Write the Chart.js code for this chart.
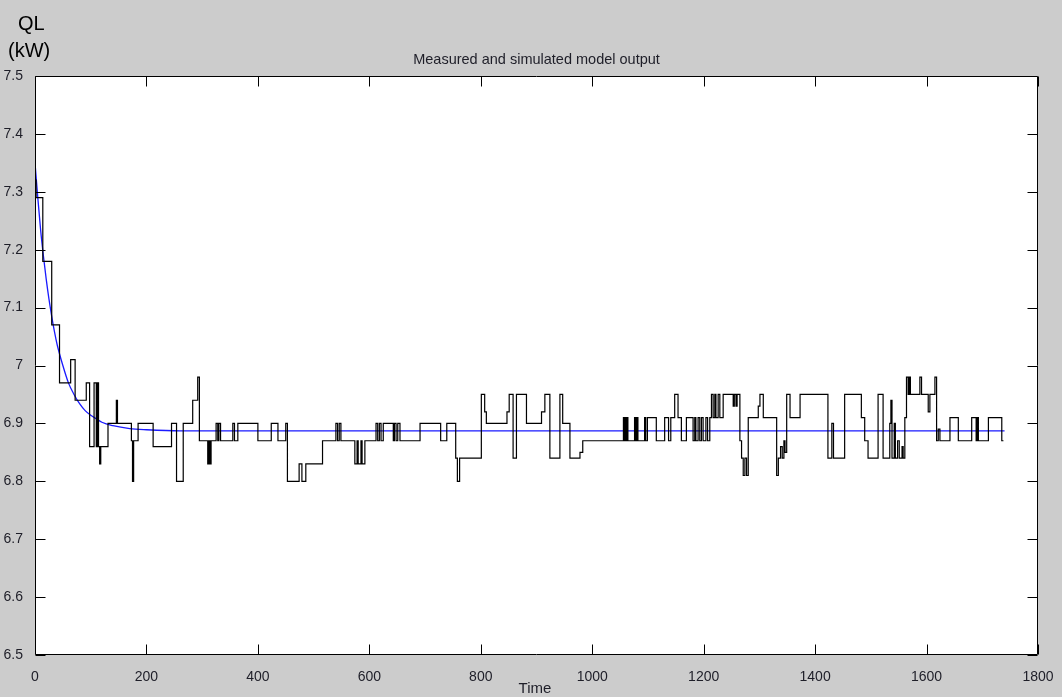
<!DOCTYPE html>
<html>
<head>
<meta charset="utf-8">
<script src="https://cdn.jsdelivr.net/npm/chart.js@4.4.0/dist/chart.umd.min.js"></script>
<style>
  html, body { margin: 0; padding: 0; background: #cccccc; }
</style>
</head>
<body>
<canvas id="chart" width="1062" height="697"></canvas>
<script>
// measured QL (step signal), time / value pairs
const measuredTime = [0, 2, 14, 30, 44, 64, 72, 92, 98, 106, 110, 112, 114, 116, 118, 131, 146, 148, 173, 175, 177, 185,
  212, 245, 254, 266, 283, 292, 295, 310, 312, 314, 316, 325, 328, 330, 333, 355, 358, 364, 400, 424, 436, 450, 453,
  474, 479, 486, 516, 540, 543, 546, 549, 574, 578, 580, 585, 587, 592, 612, 615, 618, 621, 625, 643, 645, 648, 651,
  655, 691, 728, 739, 755, 758, 762, 801, 807, 810, 847, 851, 858, 864, 882, 909, 915, 924, 942, 947, 960, 978, 983,
  1056, 1058, 1059, 1061, 1062, 1064, 1076, 1078, 1080, 1082, 1094, 1096, 1099, 1115, 1130, 1137, 1141, 1148, 1154,
  1160, 1169, 1181, 1184, 1186, 1190, 1193, 1196, 1199, 1204, 1207, 1211, 1214, 1217, 1220, 1222, 1226, 1229, 1235,
  1253, 1255, 1258, 1260, 1265, 1268, 1271, 1274, 1277, 1280, 1298, 1301, 1307, 1331, 1334, 1338, 1341, 1344, 1346,
  1349, 1355, 1373, 1423, 1430, 1433, 1453, 1483, 1489, 1495, 1513, 1522, 1534, 1536, 1538, 1542, 1544, 1548, 1551,
  1556, 1558, 1561, 1564, 1567, 1569, 1571, 1588, 1591, 1603, 1606, 1615, 1618, 1621, 1624, 1642, 1657, 1681, 1689,
  1691, 1693, 1711, 1735, 1738];
const measuredQL = [7.32, 7.29, 7.18, 7.07, 6.97, 7.01, 6.94, 6.97, 6.86, 6.97, 6.86, 6.97, 6.86, 6.83, 6.86, 6.90, 6.94, 6.90, 6.87, 6.80, 6.87, 6.90,
  6.86, 6.90, 6.80, 6.90, 6.94, 6.98, 6.87, 6.83, 6.87, 6.83, 6.87, 6.90, 6.87, 6.90, 6.87, 6.90, 6.87, 6.90, 6.87, 6.90, 6.87, 6.90, 6.80,
  6.83, 6.80, 6.83, 6.87, 6.90, 6.87, 6.90, 6.87, 6.83, 6.87, 6.83, 6.87, 6.83, 6.87, 6.90, 6.87, 6.90, 6.87, 6.90, 6.87, 6.90, 6.87, 6.90,
  6.87, 6.90, 6.87, 6.90, 6.84, 6.80, 6.84, 6.95, 6.92, 6.90, 6.92, 6.95, 6.84, 6.95, 6.90, 6.92, 6.95, 6.84, 6.95, 6.90, 6.84, 6.85, 6.87,
  6.91, 6.87, 6.91, 6.87, 6.91, 6.87, 6.91, 6.87, 6.91, 6.87, 6.91, 6.87, 6.91, 6.87, 6.91, 6.87, 6.91, 6.95, 6.91,
  6.87, 6.91, 6.87, 6.91, 6.87, 6.91, 6.87, 6.91, 6.87, 6.91, 6.87, 6.91, 6.95, 6.91, 6.95, 6.91, 6.95, 6.91, 6.95,
  6.93, 6.95, 6.93, 6.95, 6.87, 6.84, 6.81, 6.84, 6.81, 6.91, 6.93, 6.95, 6.91, 6.81, 6.84, 6.86, 6.84, 6.87, 6.85,
  6.95, 6.91, 6.95, 6.84, 6.90, 6.84, 6.95, 6.91, 6.87, 6.84, 6.95, 6.84, 6.90, 6.94, 6.84, 6.90, 6.84, 6.87, 6.84,
  6.86, 6.84, 6.91, 6.98, 6.95, 6.98, 6.95, 6.98, 6.95, 6.92, 6.95, 6.98, 6.87, 6.89, 6.87, 6.91, 6.87, 6.91, 6.87,
  6.91, 6.87, 6.91, 6.87, 6.87];

// simulated model output (smooth)
const modelTime = [0, 5, 10, 15, 20, 25, 30, 35, 40, 50, 60, 70, 80, 90, 100, 110, 120, 140, 170, 200, 260, 1740];
const modelQL = [7.35, 7.29, 7.235, 7.19, 7.15, 7.115, 7.085, 7.058, 7.035, 7.0, 6.97, 6.95, 6.934, 6.922, 6.914, 6.908, 6.902, 6.896, 6.891, 6.889, 6.887, 6.887];

const xTickValues = [0, 200, 400, 600, 800, 1000, 1200, 1400, 1600, 1800];
const xTickLabels = ['0', '200', '400', '600', '800', '1000', '1200', '1400', '1600', '1800'];
const yTickValues = [6.5, 6.6, 6.7, 6.8, 6.9, 7.0, 7.1, 7.2, 7.3, 7.4, 7.5];
const yTickLabels = ['6.5', '6.6', '6.7', '6.8', '6.9', '7', '7.1', '7.2', '7.3', '7.4', '7.5'];

const FONT = '"Liberation Sans", Arial, Helvetica, sans-serif';
const TEXT = '#1e1e28';

function toPoints(xs, ys) {
    return xs.map((x, i) => ({ x: x, y: ys[i] }));
}

const matlabFrame = {
    id: 'matlabFrame',
    beforeDraw(chart) {
        const { ctx, chartArea: a } = chart;
        ctx.save();
        ctx.fillStyle = '#cccccc';
        ctx.fillRect(0, 0, chart.width, chart.height);
        ctx.fillStyle = '#ffffff';
        ctx.fillRect(a.left, a.top, a.right - a.left, a.bottom - a.top);
        ctx.restore();
    },
    afterDraw(chart) {
        const { ctx, chartArea: a } = chart;
        const xs = chart.scales.x;
        const ys = chart.scales.y;
        const L = Math.round(a.left) + 0.5, R = Math.round(a.right) - 0.5;
        const T = Math.round(a.top) + 0.5, B = Math.round(a.bottom) - 0.5;
        ctx.save();
        ctx.strokeStyle = '#000';
        ctx.lineWidth = 1;
        ctx.beginPath();
        ctx.rect(L, T, R - L, B - T);
        // inward ticks on all four sides
        xTickValues.forEach(v => {
            const px = Math.round(xs.getPixelForValue(v)) + 0.5;
            ctx.moveTo(px, B); ctx.lineTo(px, B - 10);
            ctx.moveTo(px, T); ctx.lineTo(px, T + 10);
        });
        yTickValues.forEach(v => {
            const py = Math.round(ys.getPixelForValue(v)) + 0.5;
            ctx.moveTo(L, py); ctx.lineTo(L + 10, py);
            ctx.moveTo(R, py); ctx.lineTo(R - 10, py);
        });
        ctx.stroke();

        ctx.fillStyle = TEXT;
        ctx.textBaseline = 'alphabetic';
        ctx.textAlign = 'center';
        ctx.font = '14.5px ' + FONT;
        ctx.fillText('Measured and simulated model output', (a.left + a.right) / 2, 64);
        ctx.font = '15px ' + FONT;
        ctx.fillText('Time', 535, 693);
        ctx.fillStyle = '#000';
        ctx.textAlign = 'left';
        ctx.font = '20px ' + FONT;
        ctx.fillText('QL', 18, 30);
        ctx.fillText('(kW)', 8, 57);
        ctx.restore();
    }
};

new Chart(document.getElementById('chart'), {
    type: 'line',
    data: {
        datasets: [
            {
                label: 'Measured',
                data: toPoints(measuredTime, measuredQL),
                borderColor: '#000000',
                borderWidth: 1.2,
                stepped: 'before',
                pointRadius: 0,
                fill: false
            },
            {
                label: 'Simulated',
                data: toPoints(modelTime, modelQL),
                borderColor: '#1a1aff',
                borderWidth: 1.3,
                cubicInterpolationMode: 'monotone',
                pointRadius: 0,
                fill: false
            }
        ]
    },
    options: {
        responsive: false,
        animation: false,
        events: [],
        layout: { padding: { top: 76, right: 24, left: 0, bottom: 0 } },
        plugins: {
            legend: { display: false },
            title: { display: false },
            tooltip: { enabled: false }
        },
        scales: {
            x: {
                type: 'linear',
                min: 0,
                max: 1800,
                grid: { display: false },
                border: { display: false },
                afterBuildTicks: s => { s.ticks = xTickValues.map(v => ({ value: v })); },
                afterFit: s => { s.height = 42; },
                ticks: {
                    padding: 6,
                    maxRotation: 0,
                    autoSkip: false,
                    color: TEXT,
                    font: { family: FONT, size: 14 },
                    callback: (v, i) => xTickLabels[i]
                }
            },
            y: {
                type: 'linear',
                min: 6.5,
                max: 7.5,
                grid: { display: false },
                border: { display: false },
                afterBuildTicks: s => { s.ticks = yTickValues.map(v => ({ value: v })); },
                afterFit: s => { s.width = 35; },
                ticks: {
                    padding: 4,
                    autoSkip: false,
                    color: TEXT,
                    font: { family: FONT, size: 14 },
                    callback: (v, i) => yTickLabels[i]
                }
            }
        }
    },
    plugins: [matlabFrame]
});
</script>
</body>
</html>
